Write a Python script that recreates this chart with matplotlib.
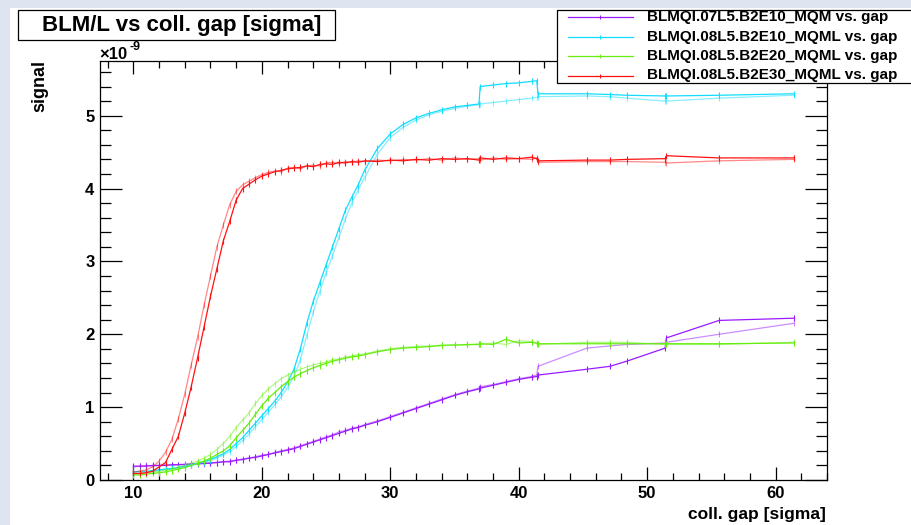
import matplotlib
matplotlib.use('Agg')
import matplotlib.pyplot as plt
from matplotlib.patches import Rectangle
from matplotlib.lines import Line2D
from matplotlib.ticker import MultipleLocator

# collimator gap [sigma], shared by every scan trace
gap = [10, 10.5, 11, 11.5, 12, 12.5, 13, 13.5, 14, 14.5,
       15, 15.5, 16, 16.5, 17, 17.5, 18, 18.5, 19, 19.5,
       20, 20.5, 21, 21.5, 22, 22.5, 23, 23.5, 24, 24.5,
       25, 25.5, 26, 26.5, 27, 27.5, 28, 29, 30, 31,
       32, 33, 34, 35, 36, 36.9, 37, 38, 39, 40,
       41, 41.4, 41.5, 45.3, 47.1, 48.4, 51.4, 51.5, 55.6, 61.4]

# signal [1e-9], two passes per monitor
mqm07_in = [0.19, 0.19, 0.19, 0.20, 0.20, 0.20, 0.21, 0.21, 0.21, 0.22,
            0.22, 0.23, 0.23, 0.24, 0.25, 0.25, 0.27, 0.28, 0.30, 0.31,
            0.33, 0.35, 0.37, 0.39, 0.41, 0.43, 0.46, 0.49, 0.52, 0.55,
            0.58, 0.61, 0.64, 0.67, 0.70, 0.72, 0.75, 0.80, 0.86, 0.92,
            0.98, 1.04, 1.10, 1.16, 1.21, 1.25, 1.26, 1.30, 1.34, 1.38,
            1.41, 1.42, 1.44, 1.52, 1.56, 1.63, 1.81, 1.95, 2.19, 2.22]
mqm07_out = [0.18, 0.19, 0.20, 0.19, 0.20, 0.21, 0.20, 0.21, 0.22, 0.22,
             0.23, 0.22, 0.24, 0.24, 0.25, 0.26, 0.27, 0.29, 0.30, 0.32,
             0.34, 0.35, 0.38, 0.40, 0.42, 0.44, 0.47, 0.50, 0.53, 0.56,
             0.59, 0.62, 0.66, 0.68, 0.71, 0.73, 0.76, 0.81, 0.87, 0.93,
             0.99, 1.05, 1.11, 1.17, 1.22, 1.26, 1.28, 1.31, 1.35, 1.39,
             1.42, 1.44, 1.56, 1.81, 1.84, 1.86, 1.88, 1.89, 2.00, 2.15]

mqml08e10_in = [0.11, 0.12, 0.12, 0.13, 0.14, 0.15, 0.16, 0.17, 0.19, 0.21,
                0.23, 0.25, 0.28, 0.32, 0.36, 0.42, 0.50, 0.58, 0.68, 0.78,
                0.88, 0.98, 1.08, 1.20, 1.34, 1.52, 1.80, 2.15, 2.45, 2.70,
                2.95, 3.20, 3.45, 3.70, 3.88, 4.05, 4.25, 4.55, 4.75, 4.88,
                4.97, 5.03, 5.08, 5.12, 5.14, 5.16, 5.40, 5.42, 5.44, 5.45,
                5.47, 5.48, 5.30, 5.30, 5.29, 5.28, 5.27, 5.27, 5.28, 5.30]
mqml08e10_out = [0.09, 0.10, 0.11, 0.12, 0.13, 0.14, 0.15, 0.17, 0.18, 0.20,
                 0.22, 0.24, 0.27, 0.30, 0.34, 0.39, 0.46, 0.54, 0.63, 0.73,
                 0.83, 0.93, 1.03, 1.14, 1.27, 1.42, 1.65, 1.98, 2.30, 2.58,
                 2.84, 3.08, 3.33, 3.58, 3.80, 3.98, 4.15, 4.47, 4.70, 4.84,
                 4.94, 5.01, 5.06, 5.10, 5.13, 5.15, 5.16, 5.18, 5.20, 5.22,
                 5.24, 5.25, 5.26, 5.27, 5.26, 5.24, 5.20, 5.20, 5.24, 5.28]

mqml08e20_in = [0.07, 0.07, 0.08, 0.09, 0.10, 0.11, 0.13, 0.15, 0.17, 0.20,
                0.23, 0.26, 0.30, 0.35, 0.40, 0.47, 0.58, 0.68, 0.78, 0.90,
                1.02, 1.12, 1.20, 1.28, 1.35, 1.41, 1.46, 1.50, 1.54, 1.57,
                1.60, 1.63, 1.65, 1.67, 1.69, 1.70, 1.72, 1.76, 1.79, 1.81,
                1.82, 1.83, 1.85, 1.85, 1.86, 1.86, 1.87, 1.86, 1.93, 1.88,
                1.89, 1.88, 1.87, 1.87, 1.87, 1.87, 1.87, 1.87, 1.87, 1.88]
mqml08e20_out = [0.08, 0.09, 0.10, 0.11, 0.12, 0.13, 0.15, 0.17, 0.20, 0.23,
                 0.26, 0.30, 0.35, 0.42, 0.50, 0.60, 0.72, 0.82, 0.92, 1.05,
                 1.16, 1.25, 1.32, 1.39, 1.44, 1.48, 1.52, 1.55, 1.58, 1.60,
                 1.62, 1.65, 1.66, 1.69, 1.70, 1.72, 1.73, 1.77, 1.80, 1.82,
                 1.83, 1.84, 1.84, 1.86, 1.85, 1.87, 1.86, 1.88, 1.86, 1.91,
                 1.90, 1.87, 1.86, 1.89, 1.89, 1.89, 1.86, 1.86, 1.86, 1.89]

mqml08e30_in = [0.09, 0.09, 0.10, 0.12, 0.18, 0.24, 0.42, 0.60, 0.92, 1.28,
                1.68, 2.10, 2.52, 2.90, 3.28, 3.55, 3.84, 4.00, 4.06, 4.12,
                4.17, 4.20, 4.23, 4.25, 4.27, 4.28, 4.29, 4.31, 4.30, 4.33,
                4.34, 4.33, 4.36, 4.35, 4.37, 4.36, 4.38, 4.37, 4.39, 4.38,
                4.40, 4.39, 4.41, 4.40, 4.41, 4.39, 4.42, 4.40, 4.42, 4.41,
                4.43, 4.41, 4.38, 4.39, 4.39, 4.40, 4.41, 4.45, 4.42, 4.42]
mqml08e30_out = [0.11, 0.12, 0.14, 0.18, 0.26, 0.38, 0.56, 0.84, 1.18, 1.58,
                 1.96, 2.40, 2.80, 3.20, 3.50, 3.78, 3.96, 4.05, 4.10, 4.15,
                 4.19, 4.22, 4.24, 4.23, 4.28, 4.29, 4.27, 4.31, 4.32, 4.31,
                 4.35, 4.36, 4.34, 4.37, 4.36, 4.38, 4.37, 4.39, 4.38, 4.40,
                 4.39, 4.41, 4.39, 4.42, 4.40, 4.41, 4.39, 4.42, 4.40, 4.41,
                 4.40, 4.42, 4.36, 4.37, 4.37, 4.37, 4.36, 4.35, 4.38, 4.40]

labels = ['BLMQI.07L5.B2E10_MQM vs. gap', 'BLMQI.08L5.B2E10_MQML vs. gap',
          'BLMQI.08L5.B2E20_MQML vs. gap', 'BLMQI.08L5.B2E30_MQML vs. gap']
colors = ['#9a1aff', '#11ddff', '#66ee11', '#ff1111']
passes_in = [mqm07_in, mqml08e10_in, mqml08e20_in, mqml08e30_in]
passes_out = [mqm07_out, mqml08e10_out, mqml08e20_out, mqml08e30_out]

W, H = 912, 525
plt.rcParams['font.family'] = ['Liberation Sans', 'DejaVu Sans']
plt.rcParams['font.weight'] = 'bold'

fig = plt.figure(figsize=(W / 100, H / 100), dpi=100, facecolor='#dee5f0')


def fx(px):
    return px / W


def fy(py):
    return 1 - py / H


# white canvas inside the light border
fig.add_artist(Rectangle((fx(10), 0), 1, fy(8), transform=fig.transFigure,
                         facecolor='white', edgecolor='none', zorder=0))

ax = fig.add_axes([fx(100), fy(480), fx(827) - fx(100), fy(61) - fy(480)])
ax.set_facecolor('white')

for c, yi, yo in zip(colors, passes_in, passes_out):
    ax.plot(gap, yo, color=c, lw=0.9, alpha=0.5, marker='|', ms=4, mew=0.8)
    ax.plot(gap, yi, color=c, lw=0.9, marker='|', ms=4, mew=0.8)

ax.set_xlim(7.4, 64.0)
ax.set_ylim(0, 5.75)
ax.xaxis.set_major_locator(MultipleLocator(10))
ax.xaxis.set_minor_locator(MultipleLocator(2))
ax.yaxis.set_major_locator(MultipleLocator(1))
ax.yaxis.set_minor_locator(MultipleLocator(0.2))
ax.tick_params(which='both', direction='in', top=True, right=True,
               labelsize=12, width=0.9)
ax.tick_params(axis='x', which='major', length=9.4, pad=4)
ax.tick_params(axis='x', which='minor', length=4.7)
ax.tick_params(axis='y', which='major', length=15.8, pad=4)
ax.tick_params(axis='y', which='minor', length=7.9)
for s in ax.spines.values():
    s.set_linewidth(0.9)

# title box
fig.add_artist(Rectangle((fx(18), fy(40)), fx(335) - fx(18), fy(10) - fy(40),
                         transform=fig.transFigure, facecolor='white',
                         edgecolor='black', lw=0.9))
fig.text(fx(182), fy(25.5), 'BLM/L vs coll. gap [sigma]', ha='center',
         va='center', fontsize=16, weight='bold')

# axis titles and exponent
fig.text(fx(40), fy(60), 'signal', rotation=90, ha='center', va='top',
         fontsize=13, weight='bold')
fig.text(fx(826), fy(514), 'coll. gap [sigma]', ha='right', va='center',
         fontsize=12.5, weight='bold')
fig.text(fx(99), fy(59), '\u00d710', ha='left', va='baseline', fontsize=12,
         weight='bold')
fig.text(fx(130), fy(50), '-9', ha='left', va='baseline', fontsize=9,
         weight='bold')

# legend
fig.add_artist(Rectangle((fx(557), fy(83)), fx(920) - fx(557), fy(10) - fy(83),
                         transform=fig.transFigure, facecolor='white',
                         edgecolor='black', lw=0.9))
for i, (lab, c) in enumerate(zip(labels, colors)):
    yy = fy(17 + 19.5 * i)
    fig.add_artist(Line2D([fx(568), fx(633)], [yy, yy], color=c, lw=0.9,
                          transform=fig.transFigure))
    fig.add_artist(Line2D([fx(600)], [yy], color=c, marker='|', ms=3,
                          mew=0.8, transform=fig.transFigure))
    fig.text(fx(647), yy, lab, ha='left', va='center', fontsize=11,
             weight='bold')

fig.savefig('out.png', dpi=100, facecolor=fig.get_facecolor())
